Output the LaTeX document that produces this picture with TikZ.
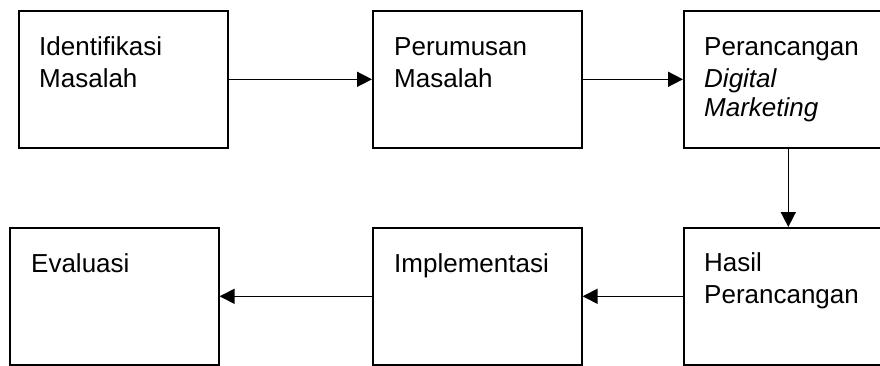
\documentclass[tikz,border=0pt]{standalone}
\usepackage{fontspec}
\setmainfont{Liberation Sans}
\usetikzlibrary{arrows.meta,calc}
\begin{document}
\begin{tikzpicture}[x=1pt,y=-1pt,
  box/.style={draw,line width=1.6pt,minimum width=209pt,minimum height=137pt,inner sep=0pt,anchor=north west},
  txt/.style={anchor=base west,align=left,inner sep=0pt,font=\fontsize{26}{32}\selectfont},
  arr/.style={line width=1.6pt,-{Triangle[length=15pt,width=15pt]}}]
\useasboundingbox (0,0) rectangle (880,365);
\clip (0,0) rectangle (880,365);
\node[box] (b1) at (18,10) {};
\node[box] (b2) at (372,10) {};
\node[box] (b3) at (683,10) {};
\node[box] (b4) at (683,227) {};
\node[box] (b5) at (372,227) {};
\node[box] (b6) at (9,227) {};
% anchor base = baseline of the last line
\node[txt] (t1) at ($(b1.north west)+(21,77)$) {Identifikasi\\Masalah};
\node[txt] (t2) at ($(b2.north west)+(22,77)$) {Perumusan\\Masalah};
\node[txt] (t3) at ($(b3.north west)+(21,106)$) {Perancangan\\\textit{Digital}\\[-3pt]\textit{Marketing}};
\node[txt] (t4) at ($(b4.north west)+(21,76)$) {Hasil\\Perancangan};
\node[txt] (t5) at ($(b5.north west)+(22,45)$) {Implementasi};
\node[txt] (t6) at ($(b6.north west)+(22,45)$) {Evaluasi};
\draw[arr] (b1) -- (b2);
\draw[arr] (b2) -- (b3.west);
\draw[arr] (b3) -- (b4);
\draw[arr] (b4.west) -- (b5);
\draw[arr] (b5) -- (b6);
\end{tikzpicture}
\end{document}
